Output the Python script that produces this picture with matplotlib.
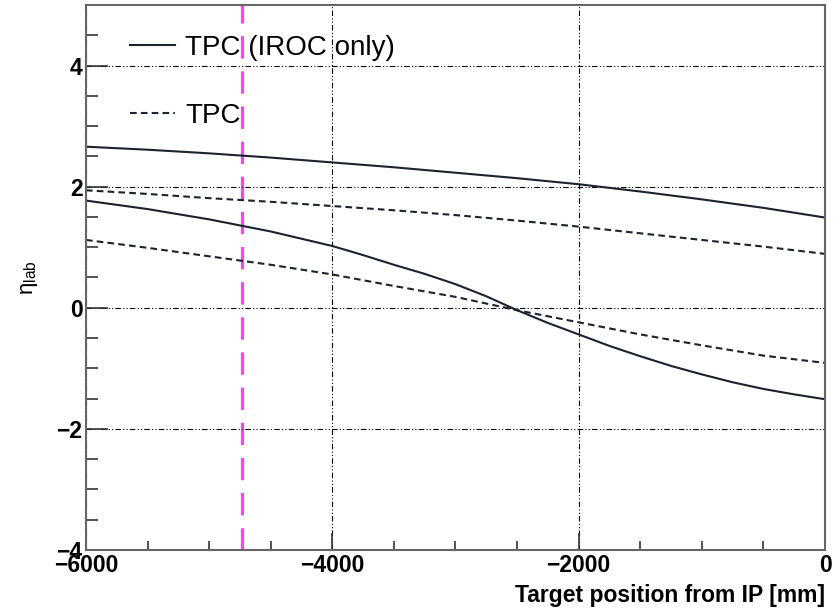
"""
Pseudorapidity acceptance of the TPC versus fixed-target position.
Values read off the reference picture.
"""
import matplotlib
matplotlib.use("Agg")
import matplotlib.pyplot as plt
from matplotlib.ticker import MultipleLocator, FixedLocator

plt.rcParams["font.family"] = ["Liberation Sans", "DejaVu Sans"]
plt.rcParams["mathtext.fontset"] = "custom"
plt.rcParams["mathtext.rm"] = "Liberation Sans"
plt.rcParams["mathtext.it"] = "Liberation Sans:italic"

# target position from IP [mm]
z_target = [-6000, -5500, -5000, -4500, -4000, -3500, -3000,
            -2500, -2000, -1500, -1000, -500, 0]

# TPC (IROC only): upper eta limit
iroc_max = [2.66, 2.61, 2.55, 2.48, 2.40, 2.32, 2.23,
            2.14, 2.04, 1.92, 1.79, 1.65, 1.49]

# TPC (IROC only): lower eta limit, read on a finer grid (it bends more)
z_fine = [-6000, -5500, -5000, -4500, -4000, -3750, -3500, -3250, -3000,
          -2750, -2500, -2250, -2000, -1750, -1500, -1250, -1000, -750,
          -500, -250, 0]
iroc_min = [1.77, 1.63, 1.46, 1.26, 1.02, 0.87, 0.71, 0.56, 0.39,
            0.19, -0.04, -0.25, -0.44, -0.63, -0.80, -0.96, -1.10, -1.23,
            -1.34, -1.43, -1.51]

# full TPC: upper / lower eta limit
tpc_max = [1.94, 1.88, 1.81, 1.75, 1.68, 1.61, 1.53,
           1.44, 1.34, 1.23, 1.12, 1.01, 0.89]
tpc_min = [1.12, 0.99, 0.85, 0.71, 0.55, 0.36, 0.18,
           -0.04, -0.24, -0.44, -0.62, -0.79, -0.91]

# nominal target position (magenta marker line)
z_nominal = -4730

line_col = "#1b2230"
dash = (0, (3.2, 2.0))

fig = plt.figure(figsize=(8.33, 6.14), dpi=100)
ax = fig.add_axes([0.1032, 0.1042, 0.8872, 0.8877])

ax.plot(z_target, iroc_max, color=line_col, lw=1.5, label="TPC (IROC only)")
ax.plot(z_fine, iroc_min, color=line_col, lw=1.5)
ax.plot(z_target, tpc_max, color=line_col, lw=1.5, ls=dash, label="TPC")
ax.plot(z_target, tpc_min, color=line_col, lw=1.5, ls=dash)

ax.axvline(z_nominal, color="#ff40ff", lw=2.3, ls=(0, (7, 4)), zorder=1)

ax.set_xlim(-6000, 0)
ax.set_ylim(-4, 5)

ax.xaxis.set_major_locator(MultipleLocator(2000))
ax.xaxis.set_minor_locator(MultipleLocator(500))
ax.yaxis.set_major_locator(FixedLocator([-4, -2, 0, 2, 4]))
ax.yaxis.set_minor_locator(MultipleLocator(0.5))

ax.grid(True, which="major", color="black", lw=0.8,
        ls=(0, (5, 2, 1, 2, 1, 2)))

for s in ax.spines.values():
    s.set_color("#666666")
    s.set_linewidth(1.5)

ax.tick_params(which="both", direction="in", top=False, right=False,
               color="#333333", width=1.2)
ax.tick_params(axis="x", which="major", length=12.5, pad=3)
ax.tick_params(axis="x", which="minor", length=6.5)
ax.tick_params(axis="y", which="major", length=16, pad=2.5)
ax.tick_params(axis="y", which="minor", length=8.5)
for lab in ax.get_xticklabels() + ax.get_yticklabels():
    lab.set_fontsize(16.5)
    lab.set_fontweight("bold")

ax.set_xlabel("Target position from IP [mm]", fontsize=16.5,
              fontweight="bold", loc="right", labelpad=5)
ax.set_ylabel(r"η$_{\rm lab}$", fontsize=16, labelpad=12)

ax.legend(loc="upper left", bbox_to_anchor=(0.0595, 0.945), frameon=False,
          fontsize=20, handlelength=1.62, handletextpad=0.36,
          labelspacing=1.52, borderpad=0, borderaxespad=0)

fig.savefig("out.png", dpi=100)
